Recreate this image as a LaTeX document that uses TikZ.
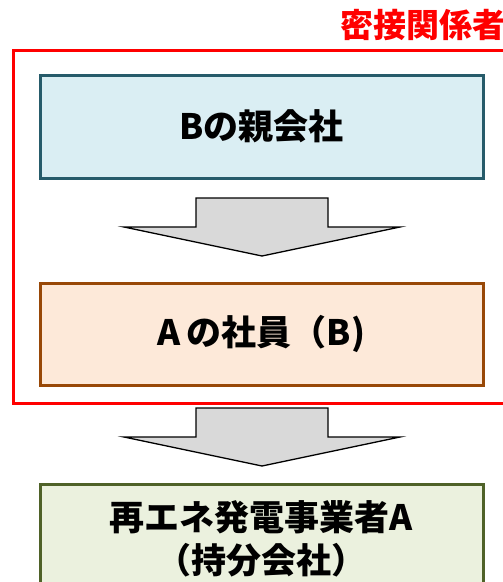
\documentclass[tikz,border=0pt]{standalone}
\usepackage{fontspec}
\setmainfont{Noto Sans CJK JP}
\usetikzlibrary{calc}
\definecolor{redframe}{HTML}{FF0000}
\definecolor{b1draw}{HTML}{265B6A}
\definecolor{b1fill}{HTML}{DAEEF3}
\definecolor{b2draw}{HTML}{984807}
\definecolor{b2fill}{HTML}{FDE9D9}
\definecolor{b3draw}{HTML}{4F6228}
\definecolor{b3fill}{HTML}{EBF1DE}
\definecolor{arrowgray}{HTML}{D9D9D9}
\begin{document}
\begin{tikzpicture}[x=1pt,y=-1pt,
  box/.style={draw, line width=3pt, minimum width=443pt, inner sep=0pt, align=center,
    font=\fontsize{35}{43}\selectfont\bfseries},
  blockarrow/.style={draw=black, line width=1.3pt, fill=arrowgray, line join=miter},
  framebox/.style={draw=redframe, line width=3pt}]
\useasboundingbox (0,0) rectangle (503,582);
\begin{scope}
\clip (0,0) rectangle (503,582);
\draw[framebox] (13,50) rectangle (520,403);
\node[anchor=west, text=redframe, font=\fontsize{33}{34}\selectfont\bfseries, inner sep=0pt] (lbl) at (340,25) {密接関係者};
\node[box, draw=b1draw, fill=b1fill, minimum height=103pt] (b1) at (261.5,126.5) {Bの親会社};
\node[box, draw=b2draw, fill=b2fill, minimum height=102pt] (b2) at (261.5,334) {A\,の社員（B)};
\node[box, draw=b3draw, fill=b3fill, minimum height=109pt] (b3) at (261.5,538.5) {再エネ発電事業者A\\（持分会社）};
\draw[blockarrow] (196,198) -- (328,198) -- (328,227) -- (400,227) -- (262,256) -- (124,227) -- (196,227) -- cycle;
\draw[blockarrow] (196,408) -- (328,408) -- (328,437) -- (400,437) -- (262,466) -- (124,437) -- (196,437) -- cycle;
\end{scope}
\end{tikzpicture}
\end{document}
